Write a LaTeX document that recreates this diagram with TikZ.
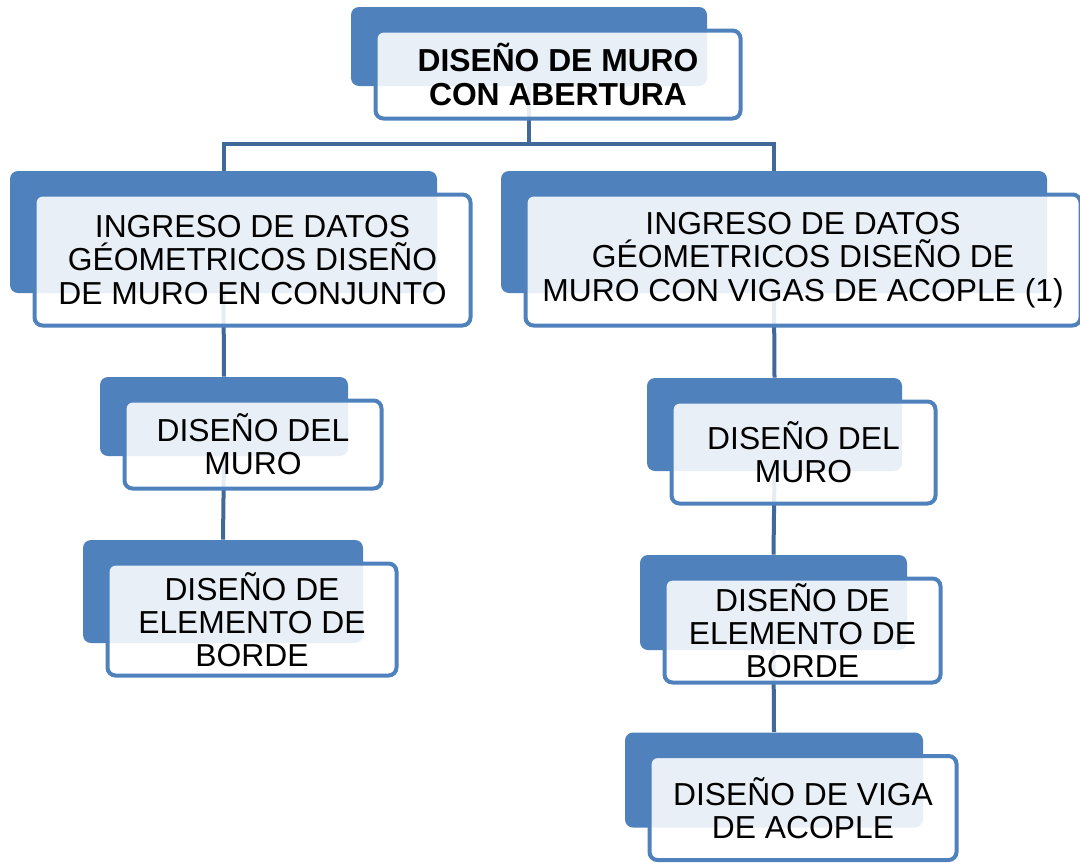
\documentclass[tikz,border=0pt]{standalone}
\usepackage{fontspec}
\setmainfont{Liberation Sans}
\usetikzlibrary{calc}
\usetikzlibrary{backgrounds}
\definecolor{cardblue}{RGB}{79,129,189}
\definecolor{linkblue}{RGB}{64,104,152}

\begin{document}
\begin{tikzpicture}[x=.5pt, y=-.5pt,
 back/.style={fill=cardblue, rounded corners=4pt, inner sep=0},
 front/.style={draw=cardblue, line width=2pt, fill=white, fill opacity=.88, text opacity=1, rounded corners=4pt, align=center, inner sep=0, font=\fontsize{15.9}{16.6}\selectfont},
 link/.style={draw=linkblue, line width=2pt}]
\useasboundingbox (0,0) rectangle (1080,862);
\foreach \n/\x/\y/\w/\h/\t in {
 top/529/46.5/356/79/{\textbf{DISEÑO DE MURO}\\\textbf{CON ABERTURA}},
 l2/223.5/232/427/122/{INGRESO DE DATOS\\GÉOMETRICOS DISEÑO\\DE MURO EN CONJUNTO},
 r2/774/232/546/122/{INGRESO DE DATOS\\GÉOMETRICOS DISEÑO DE\\MURO CON VIGAS DE ACOPLE (1)},
 l3/224/416.5/248/79/{DISEÑO DEL\\MURO},
 l4/223/591.5/280/103/{DISEÑO DE\\ELEMENTO DE\\BORDE},
 r3/774.5/424.5/255/93/{DISEÑO DEL\\MURO},
 r4/773.5/602.5/267/95/{DISEÑO DE\\ELEMENTO DE\\BORDE},
 r5/774/780/298/95/{DISEÑO DE VIGA\\DE ACOPLE}} {
 \node[back, minimum width=\w*.5pt, minimum height=\h*.5pt] (\n) at (\x,\y) {};
 \node[front, minimum width=(\w+9)*.5pt, minimum height=(\h+9)*.5pt] (\n-f) at ($(\n)+(29,28)$) {\t};
}
% connectors under the cards
\begin{scope}[on background layer]
\coordinate (split) at (529,144);
\draw[link] (top.south) -- (split) -| (l2.north);
\draw[link] (split) -| (r2.north);
\draw[link] (l2.south) -- (l3.north);
\draw[link] (l3.south) -- (l4.north);
\draw[link] (r2.south) -- (r3.north);
\draw[link] (r3.south) -- (r4.north);
\draw[link] (r4.south) -- (r5.north);
\end{scope}
\end{tikzpicture}
\end{document}
